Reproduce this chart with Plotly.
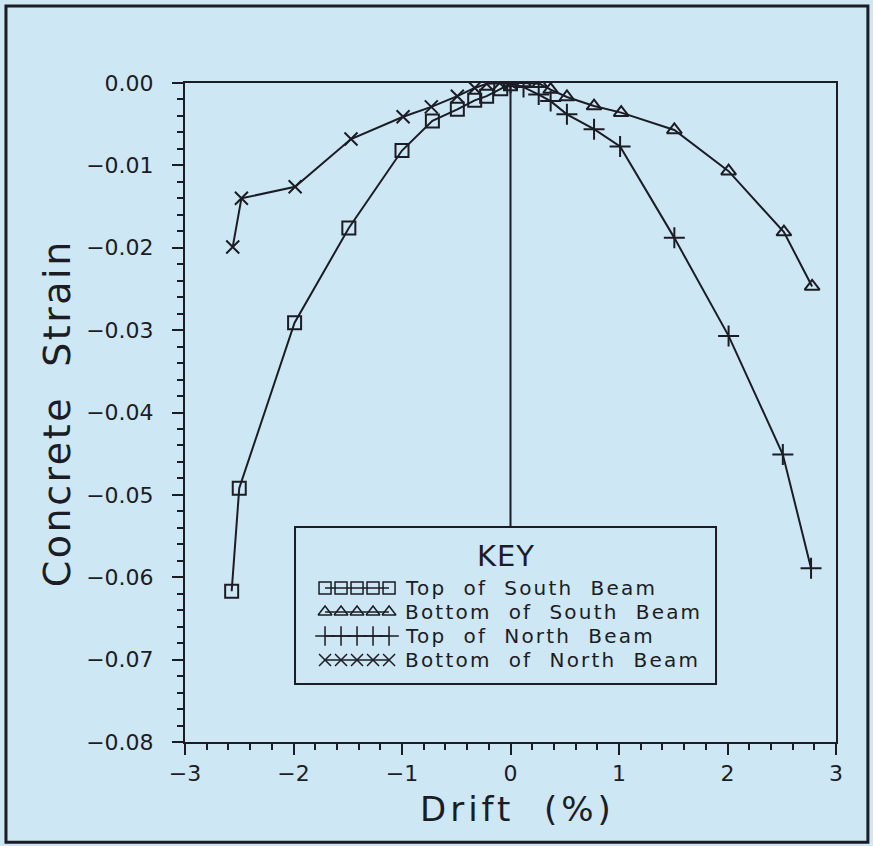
import plotly.graph_objects as go

# ---- data ----
top_south_x = [-2.57, -2.50, -1.99, -1.49, -1.00, -0.72, -0.49, -0.33, -0.22, -0.09, 0.00]
top_south_y = [-0.0617, -0.0492, -0.0291, -0.0176, -0.0082, -0.0046, -0.0032, -0.0021, -0.0016, -0.0007, -0.0001]

bot_south_x = [0.00, 0.12, 0.27, 0.37, 0.52, 0.77, 1.02, 1.51, 2.01, 2.52, 2.78]
bot_south_y = [0.0000, 0.0000, -0.0001, -0.0008, -0.0017, -0.0028, -0.0036, -0.0057, -0.0107, -0.0181, -0.0247]

top_north_x = [0.00, 0.12, 0.26, 0.37, 0.52, 0.77, 1.01, 1.51, 2.01, 2.51, 2.77]
top_north_y = [0.0000, -0.0005, -0.0014, -0.0022, -0.0038, -0.0056, -0.0077, -0.0188, -0.0307, -0.0451, -0.0589]

bot_north_x = [-2.56, -2.48, -1.985, -1.47, -0.99, -0.73, -0.49, -0.33, -0.22, -0.10, 0.00]
bot_north_y = [-0.0199, -0.0140, -0.0126, -0.0068, -0.0041, -0.0029, -0.0016, -0.0006, -0.0001, 0.0000, 0.0000]

series_names = ["Top  of  South  Beam", "Bottom  of  South  Beam", "Top  of  North  Beam", "Bottom  of  North  Beam"]
x_ticks = [-3, -2, -1, 0, 1, 2, 3]
y_ticks = [0.00, -0.01, -0.02, -0.03, -0.04, -0.05, -0.06, -0.07, -0.08]
y_tick_text = ["0.00", "\u22120.01", "\u22120.02", "\u22120.03", "\u22120.04", "\u22120.05", "\u22120.06", "\u22120.07", "\u22120.08"]
x_tick_text = ["\u22123", "\u22122", "\u22121", "0", "1", "2", "3"]

# ---- styling ----
BG = "#cde7f4"
INK = "#1c1c24"
FONT = "DejaVu Sans"
symbols = ["square-open", "triangle-up-open", "cross-thin-open", "x-thin-open"]
msizes = [13, 13, 15, 13]


def spaced(text, px):
    return f'<span style="letter-spacing:{px}px">{text}</span>'


fig = go.Figure()
data = [(top_south_x, top_south_y), (bot_south_x, bot_south_y),
        (top_north_x, top_north_y), (bot_north_x, bot_north_y)]
for (xs, ys), name, sym, ms in zip(data, series_names, symbols, msizes):
    fig.add_trace(go.Scatter(
        x=xs, y=ys, mode="lines+markers", name=name, showlegend=False,
        line=dict(color=INK, width=2),
        marker=dict(symbol=sym, size=ms, color=INK, line=dict(color=INK, width=2)),
    ))

# ---- KEY box (manual legend) ----
leg_x0, leg_x1 = 0.169, 0.8157
leg_y0, leg_y1 = 0.088, 0.3263
row_y = [0.2337, 0.1973, 0.1608, 0.1244]
sample_x = [0.2151 + 0.02458 * k for k in range(5)]
for i, (name, sym, ms) in enumerate(zip(series_names, symbols, msizes)):
    fig.add_trace(go.Scatter(
        x=sample_x, y=[row_y[i]] * len(sample_x), xaxis="x2", yaxis="y2",
        mode="lines+markers", showlegend=False, hoverinfo="skip",
        line=dict(color=INK, width=1.5),
        marker=dict(symbol=sym, size=ms - 1, color=INK, line=dict(color=INK, width=1.5)),
    ))
    fig.add_annotation(x=0.3349, y=row_y[i], xref="paper", yref="paper",
                       text=spaced(name, 2.2), showarrow=False, xanchor="left", yanchor="middle",
                       font=dict(family=FONT, size=20, color=INK))
fig.add_annotation(x=(leg_x0 + leg_x1) / 2, y=0.2822, xref="paper", yref="paper",
                   text=spaced("KEY", 1), showarrow=False, xanchor="center", yanchor="middle",
                   font=dict(family=FONT, size=29, color=INK))

shapes = [
    # zero drift line down to the key
    dict(type="line", xref="x", yref="paper", x0=0, x1=0, y0=leg_y1, y1=1,
         line=dict(color=INK, width=2), layer="below"),
    # key box
    dict(type="rect", xref="paper", yref="paper", x0=leg_x0, x1=leg_x1, y0=leg_y0, y1=leg_y1,
         line=dict(color=INK, width=2), fillcolor=BG, layer="below"),
    # outer frame
    dict(type="rect", xref="paper", yref="paper", x0=-0.275, x1=1.049, y0=-0.152, y1=1.117,
         line=dict(color=INK, width=3)),
]

fig.update_layout(
    width=873, height=846,
    margin=dict(l=185, r=37, t=83, b=104),
    paper_bgcolor=BG, plot_bgcolor=BG,
    font=dict(family=FONT, color=INK),
    shapes=shapes,
    xaxis=dict(range=[-3, 3], tickvals=x_ticks, ticktext=x_tick_text,
               showgrid=False, zeroline=False, showline=True, linecolor=INK, linewidth=2,
               mirror=True, ticks="outside", ticklen=11, tickwidth=2, tickcolor=INK,
               tickfont=dict(family=FONT, size=22, color=INK),
               minor=dict(dtick=0.2, ticks="outside", ticklen=6, tickwidth=2, tickcolor=INK, showgrid=False)),
    yaxis=dict(range=[-0.08, 0], tickvals=y_ticks, ticktext=y_tick_text,
               showgrid=False, zeroline=False, showline=True, linecolor=INK, linewidth=2,
               mirror=True, ticks="outside", ticklen=11, tickwidth=2, tickcolor=INK,
               tickfont=dict(family=FONT, size=22, color=INK), ticklabelstandoff=14,
               minor=dict(dtick=0.002, ticks="outside", ticklen=6, tickwidth=2, tickcolor=INK, showgrid=False)),
    xaxis2=dict(domain=[0, 1], range=[0, 1], overlaying="x", visible=False, anchor="y2"),
    yaxis2=dict(domain=[0, 1], range=[0, 1], overlaying="y", visible=False, anchor="x2"),
)

fig.add_annotation(x=0.51, y=-0.0698, xref="paper", yref="paper", text=spaced("Drift  (%)", 4),
                   showarrow=False, xanchor="center", yanchor="top", borderpad=0,
                   font=dict(family=FONT, size=34, color=INK))
fig.add_annotation(x=-0.1966, y=0.499, xref="paper", yref="paper", text=spaced("Concrete  Strain", 2.5),
                   showarrow=False, textangle=-90, xanchor="center", yanchor="middle",
                   font=dict(family=FONT, size=38, color=INK))

fig.write_html("out.html")
